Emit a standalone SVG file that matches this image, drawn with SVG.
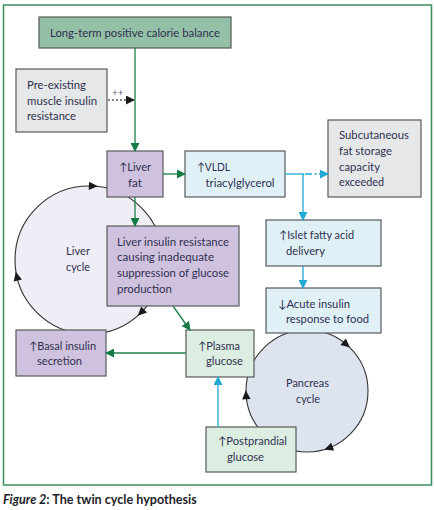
<svg xmlns="http://www.w3.org/2000/svg" width="434" height="510" viewBox="0 0 434 510">
<style>
text{font-family:Lato,"DejaVu Sans",sans-serif;font-size:11.4px;fill:#2f3150}
.box{stroke:#58595b;stroke-width:1.2}
.gray{fill:#e6e7e8}
.top{fill:#93c0a6}
.purple{fill:#cfc2de}
.blue{fill:#dff0f7}
.green{fill:#dcede2}
.gl{fill:none;stroke:#1b8049;stroke-width:1.3}
.bl{fill:none;stroke:#1fa8d2;stroke-width:1.3}
.cyc{stroke:#333;stroke-width:1.1}
.ah{fill:#1a1a1a}
.cap{font-size:12.6px;fill:#1e1e2a;font-weight:bold}
</style>
<defs>
<marker id="mg" viewBox="0 0 10 10" refX="9" refY="5" markerWidth="9" markerHeight="9" markerUnits="userSpaceOnUse" orient="auto"><path d="M0,0 L10,5 L0,10 z" fill="#137a42"/></marker>
<marker id="mb" viewBox="0 0 10 10" refX="9" refY="5" markerWidth="9" markerHeight="9" markerUnits="userSpaceOnUse" orient="auto"><path d="M0,0 L10,5 L0,10 z" fill="#1fa8d2"/></marker>
<marker id="mk" viewBox="0 0 10 10" refX="9" refY="5" markerWidth="9" markerHeight="9" markerUnits="userSpaceOnUse" orient="auto"><path d="M0,0 L10,5 L0,10 z" fill="#1a1a1a"/></marker>
<path id="tri" d="M5,0 L-4,-4.2 L-4,4.2 z"/>
</defs>
<rect x="3.5" y="5" width="428" height="480" fill="#fff" stroke="#3a8f5c" stroke-width="1.5"/>

<g id="liver-cycle">
<circle class="cyc" cx="89" cy="260" r="74" fill="#efedf5"/>
<use href="#tri" class="ah" transform="translate(92.9,186.1) rotate(3)"/>
<use href="#tri" class="ah" transform="translate(141.3,312.3) rotate(135)"/>
<use href="#tri" class="ah" transform="translate(16.9,276.6) rotate(257)"/>
<text x="66" y="255" textLength="24" lengthAdjust="spacingAndGlyphs">Liver</text>
<text x="66" y="271" textLength="24" lengthAdjust="spacingAndGlyphs">cycle</text>
</g>

<g id="pancreas-cycle">
<circle class="cyc" cx="307" cy="391" r="61" fill="#dde3ef"/>
<use href="#tri" class="ah" transform="translate(346.2,344.3) rotate(40)"/>
<use href="#tri" class="ah" transform="translate(328.9,448) rotate(159)"/>
<use href="#tri" class="ah" transform="translate(246.1,395.3) rotate(266)"/>
<text x="286" y="387" textLength="43" lengthAdjust="spacingAndGlyphs">Pancreas</text>
<text x="296" y="403" textLength="24" lengthAdjust="spacingAndGlyphs">cycle</text>
</g>

<g id="calorie-balance">
<rect class="box top" x="39" y="17" width="192" height="31"/>
<text x="50" y="37" textLength="170" lengthAdjust="spacingAndGlyphs">Long-term positive calorie balance</text>
</g>

<g id="muscle-insulin-resistance">
<rect class="box gray" x="16" y="69" width="91" height="63"/>
<text x="27" y="89" textLength="59" lengthAdjust="spacingAndGlyphs">Pre-existing</text>
<text x="27" y="105" textLength="70" lengthAdjust="spacingAndGlyphs">muscle insulin</text>
<text x="27" y="120" textLength="49" lengthAdjust="spacingAndGlyphs">resistance</text>
</g>

<g id="liver-fat">
<rect class="box purple" x="107" y="151" width="56" height="46"/>
<text x="119" y="171" textLength="32" lengthAdjust="spacingAndGlyphs">↑Liver</text>
<text x="128" y="187" textLength="14" lengthAdjust="spacingAndGlyphs">fat</text>
</g>

<g id="vldl">
<rect class="box blue" x="185" y="151" width="100" height="46"/>
<text x="197" y="171" textLength="33" lengthAdjust="spacingAndGlyphs">↑VLDL</text>
<text x="205.5" y="187" textLength="69" lengthAdjust="spacingAndGlyphs">triacylglycerol</text>
</g>

<g id="subcutaneous-fat">
<rect class="box gray" x="328" y="120" width="93" height="77"/>
<text x="339" y="139" textLength="70" lengthAdjust="spacingAndGlyphs">Subcutaneous</text>
<text x="339" y="155" textLength="53" lengthAdjust="spacingAndGlyphs">fat storage</text>
<text x="339" y="171" textLength="41" lengthAdjust="spacingAndGlyphs">capacity</text>
<text x="339" y="186" textLength="45" lengthAdjust="spacingAndGlyphs">exceeded</text>
</g>

<g id="liver-insulin-resistance">
<rect class="box purple" x="107" y="226" width="132" height="80"/>
<text x="117" y="246" textLength="112" lengthAdjust="spacingAndGlyphs">Liver insulin resistance</text>
<text x="117" y="261" textLength="97" lengthAdjust="spacingAndGlyphs">causing inadequate</text>
<text x="117" y="277" textLength="112" lengthAdjust="spacingAndGlyphs">suppression of glucose</text>
<text x="117" y="293" textLength="55" lengthAdjust="spacingAndGlyphs">production</text>
</g>

<g id="islet-fatty-acid">
<rect class="box blue" x="266" y="220" width="115" height="46"/>
<text x="279" y="239" textLength="75" lengthAdjust="spacingAndGlyphs">↑Islet fatty acid</text>
<text x="286" y="255" textLength="39" lengthAdjust="spacingAndGlyphs">delivery</text>
</g>

<g id="acute-insulin">
<rect class="box blue" x="266" y="288" width="115" height="45"/>
<text x="278" y="308" textLength="72" lengthAdjust="spacingAndGlyphs">↓Acute insulin</text>
<text x="286" y="323" textLength="83" lengthAdjust="spacingAndGlyphs">response to food</text>
</g>

<g id="basal-insulin">
<rect class="box purple" x="16" y="330" width="90" height="46"/>
<text x="29" y="350" textLength="67" lengthAdjust="spacingAndGlyphs">↑Basal insulin</text>
<text x="37" y="365" textLength="45" lengthAdjust="spacingAndGlyphs">secretion</text>
</g>

<g id="plasma-glucose">
<rect class="box green" x="186" y="330" width="68" height="47"/>
<text x="198" y="350" textLength="42" lengthAdjust="spacingAndGlyphs">↑Plasma</text>
<text x="206" y="365" textLength="37" lengthAdjust="spacingAndGlyphs">glucose</text>
</g>

<g id="postprandial-glucose">
<rect class="box green" x="206" y="427" width="90" height="45"/>
<text x="218" y="445" textLength="69" lengthAdjust="spacingAndGlyphs">↑Postprandial</text>
<text x="227" y="461" textLength="37" lengthAdjust="spacingAndGlyphs">glucose</text>
</g>

<g id="connectors">
<line class="gl" x1="135" y1="48" x2="135" y2="151" stroke="#45a070" marker-end="url(#mg)"/>
<line x1="108" y1="100" x2="134" y2="100" stroke="#555" stroke-width="1.3" stroke-dasharray="2,2" marker-end="url(#mk)"/>
<text x="112" y="96" style="font-size:10px;fill:#6a5a8e">++</text>
<line class="gl" x1="163" y1="174" x2="185" y2="174" stroke-width="1.6" marker-end="url(#mg)"/>
<line class="gl" x1="135" y1="197" x2="135" y2="226" marker-end="url(#mg)"/>
<line class="gl" x1="173" y1="306" x2="190" y2="330" marker-end="url(#mg)"/>
<line class="gl" x1="186" y1="353" x2="106" y2="353" marker-end="url(#mg)"/>
<line class="bl" x1="285" y1="174" x2="304" y2="174"/>
<path class="bl" d="M305,174 H312 M314.5,174 H316.5 M319,174 H328" marker-end="url(#mb)"/>
<line class="bl" x1="303" y1="174" x2="303" y2="220" marker-end="url(#mb)"/>
<line class="bl" x1="303" y1="266" x2="303" y2="288" marker-end="url(#mb)"/>
<line class="bl" x1="218" y1="427" x2="218" y2="377" marker-end="url(#mb)"/>
</g>

<text class="cap" x="3" y="504"><tspan font-style="italic">Figure 2</tspan>: The twin cycle hypothesis</text>
</svg>
